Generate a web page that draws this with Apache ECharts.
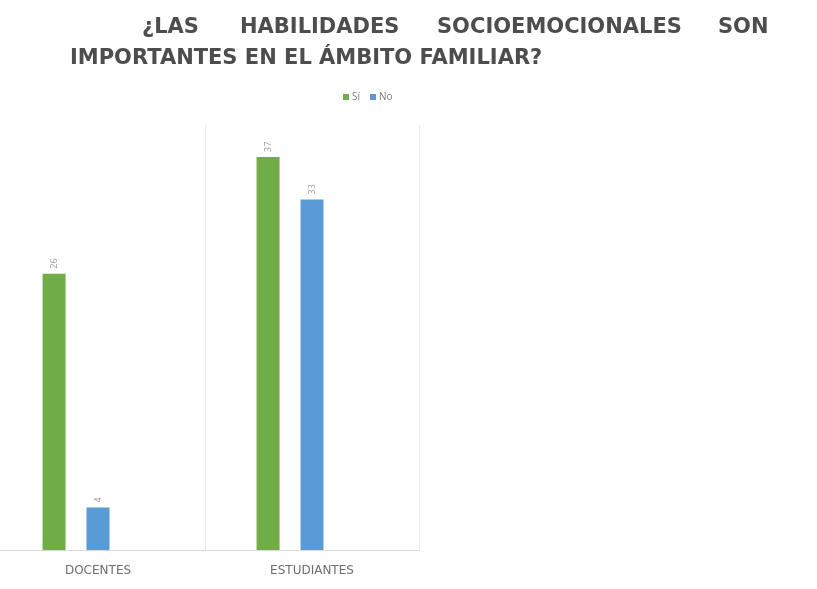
<!DOCTYPE html>
<html><head><meta charset="utf-8">
<script src="https://cdn.jsdelivr.net/npm/echarts@6/dist/echarts.min.js"></script>
<style>html,body{margin:0;padding:0;background:#fff}#c{width:817px;height:589px}</style>
</head><body><div id="c"></div>
<script>
const categories = ['DOCENTES', 'ESTUDIANTES'];
const siValues = [26, 37];
const noValues = [4, 33];
const blankValues = [null, null];
const titleLine1 = ['¿LAS', 'HABILIDADES', 'SOCIOEMOCIONALES', 'SON'];
const titleLine2 = 'IMPORTANTES EN EL ÁMBITO FAMILIAR?';

const chart = echarts.init(document.getElementById('c'));
const tStyle = {fontFamily: 'DejaVu Sans', fontWeight: 700, fontSize: 21, color: '#4d4d4d'};
const line1Left = [142, 240, 437, 718];
const titles = titleLine1.map((w, i) => ({text: w, left: line1Left[i], top: 17, padding: 0, textStyle: tStyle}));
titles.push({text: titleLine2, left: 70, top: 48, padding: 0, textStyle: tStyle});

const labelCfg = {show: true, position: 'top', rotate: 90, align: 'left', verticalAlign: 'middle', distance: 5, color: '#9a9a9a', fontSize: 9, fontFamily: 'Open Sans'};
chart.setOption({
  animation: false,
  title: titles,
  legend: {data: ['Sí', 'No'], top: 87, left: 338, itemWidth: 6, itemHeight: 6, itemGap: 10, icon: 'rect',
    textStyle: {fontSize: 10, color: '#7a7a7a', fontFamily: 'Open Sans', padding: [0, 0, 0, -2]}},
  grid: {left: -9, right: 398, top: 125, bottom: 39, outerBoundsMode: 'none', containLabel: false},
  xAxis: {type: 'category', data: categories, boundaryGap: true,
    axisLine: {lineStyle: {color: '#d9d9d9'}}, axisTick: {show: false},
    splitLine: {show: true, lineStyle: {color: '#ebebeb'}},
    axisLabel: {color: '#6e6e6e', fontSize: 12, margin: 15, fontFamily: 'DejaVu Sans'}},
  yAxis: {type: 'value', min: 0, max: 40, show: false, splitLine: {show: false}},
  series: [
    {name: 'Sí', type: 'bar', data: siValues, barWidth: 23, barGap: '91%', barCategoryGap: '48%', itemStyle: {color: '#70AD47'}, label: labelCfg},
    {name: 'No', type: 'bar', data: noValues, barWidth: 23, itemStyle: {color: '#5B9BD5'}, label: labelCfg},
    {name: '', type: 'bar', data: blankValues, barWidth: 23}
  ]
});
</script></body></html>
